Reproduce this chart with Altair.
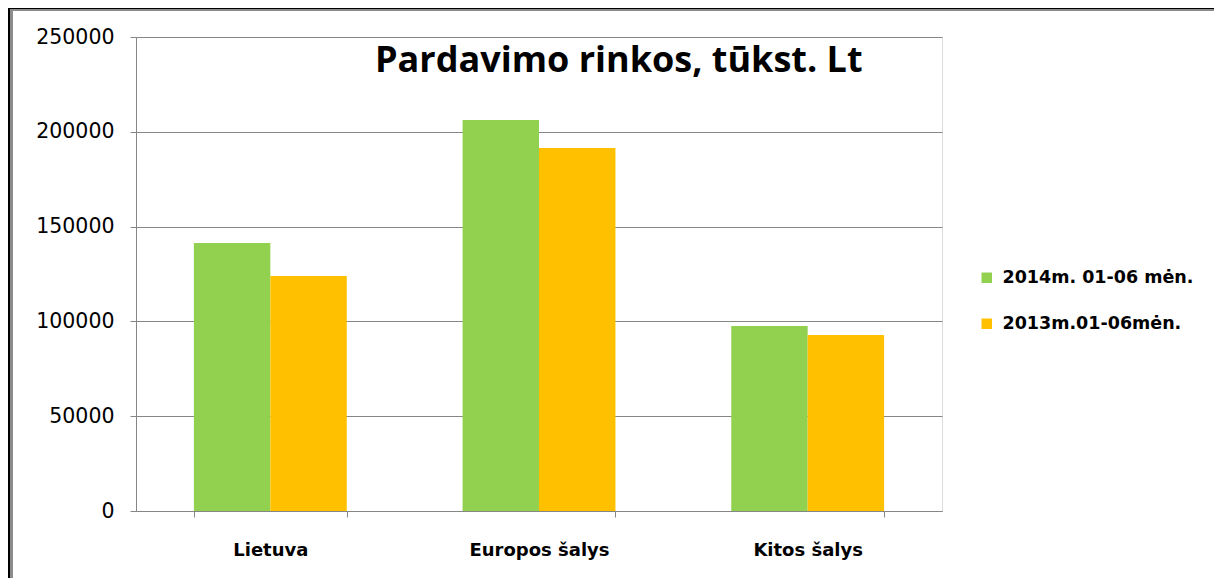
import altair as alt
import pandas as pd

categories = ["Lietuva", "Europos šalys", "Kitos šalys"]
series = ["2014m. 01-06 mėn.", "2013m.01-06mėn."]
values_2014 = [141300, 206200, 97600]
values_2013 = [124000, 191500, 92800]
colors = ["#92D050", "#FFC000"]
y_ticks = [0, 50000, 100000, 150000, 200000, 250000]
chart_title = "Pardavimo rinkos, tūkst. Lt"

rows = []
for c, a, b in zip(categories, values_2014, values_2013):
    rows.append({"cat": c, "series": series[0], "value": a})
    rows.append({"cat": c, "series": series[1], "value": b})
df = pd.DataFrame(rows)

W, H = 806, 474
PL, PT = 128, 29
TOTW, TOTH = 1206, 570

bars = alt.Chart(df).mark_bar().encode(
    x=alt.X("cat:N", sort=categories, title=None,
            scale=alt.Scale(paddingInner=0.431, paddingOuter=0.2155),
            axis=alt.Axis(labelAngle=0, labelFont="DejaVu Sans", labelFontWeight="bold",
                          labelFontSize=18, labelColor="#000000", labelPadding=24,
                          tickBand="extent", tickSize=6, tickColor="#868686",
                          domainColor="#868686", grid=False)),
    xOffset=alt.XOffset("series:N", sort=series, scale=alt.Scale(paddingInner=0, paddingOuter=0)),
    y=alt.Y("value:Q", title=None,
            scale=alt.Scale(domain=[0, 250000], nice=False),
            axis=alt.Axis(values=y_ticks, format="d", labelFont="DejaVu Sans",
                          labelFontSize=20.5, labelColor="#000000", labelPadding=16,
                          tickSize=6, tickColor="#868686", domainColor="#868686",
                          gridColor="#868686", gridWidth=1)),
    color=alt.Color("series:N", sort=series, title=None,
                    scale=alt.Scale(domain=series, range=colors),
                    legend=alt.Legend(orient="none", legendX=842, legendY=232,
                                      symbolType="square", symbolSize=110,
                                      symbolStrokeWidth=0, labelFont="DejaVu Sans",
                                      labelFontWeight="bold", labelFontSize=17.5,
                                      labelColor="#000000", labelOffset=7,
                                      labelLimit=0, rowPadding=27, padding=0)),
)

title_layer = alt.Chart(pd.DataFrame({"t": [chart_title]})).mark_text(
    font="Open Sans", fontSize=36, fontWeight="bold", color="#000000",
    align="left", baseline="alphabetic",
).encode(text="t:N", x=alt.value(239), y=alt.value(35))

frame = alt.Chart(pd.DataFrame({"a": [0]}))
top_black = frame.mark_rule(color="#000000", strokeWidth=2).encode(
    x=alt.value(-PL), x2=alt.value(TOTW - PL), y=alt.value(-PT))
top_gray = frame.mark_rule(color="#8c8c8c", strokeWidth=2).encode(
    x=alt.value(-PL + 2), x2=alt.value(TOTW - PL), y=alt.value(-PT + 2))
left_black = frame.mark_rule(color="#000000", strokeWidth=2).encode(
    x=alt.value(-PL + 1), y=alt.value(-PT), y2=alt.value(TOTH - PT))
left_gray = frame.mark_rule(color="#8c8c8c", strokeWidth=3).encode(
    x=alt.value(-PL + 3.5), y=alt.value(-PT + 1), y2=alt.value(TOTH - PT))

chart = alt.layer(bars, title_layer, top_black, top_gray, left_black, left_gray).properties(
    width=W, height=H,
    autosize=alt.AutoSizeParams(type="none"),
    padding={"left": PL, "top": PT, "right": TOTW - PL - W, "bottom": TOTH - PT - H},
).configure_view(stroke=None).configure(background="#ffffff")

chart.save("out.html", embed_options={"renderer": "svg", "actions": False})
